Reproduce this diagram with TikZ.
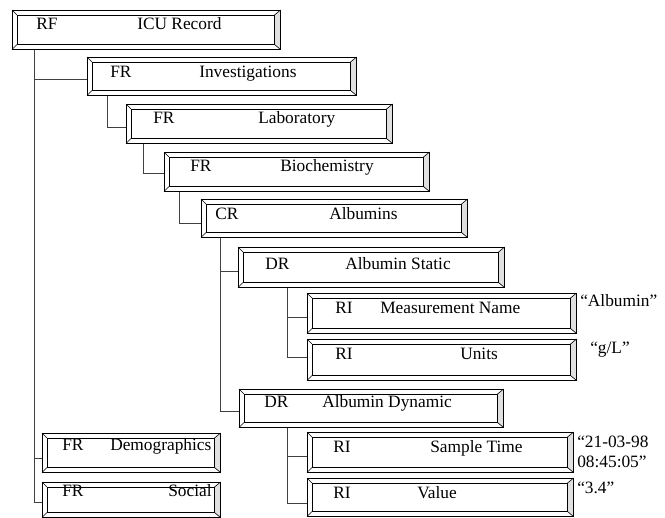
\documentclass[tikz,border=0pt]{standalone}
\usepackage{fontspec}
\setmainfont{Liberation Serif}

\begin{document}
\begin{tikzpicture}[x=0.75pt,y=-0.75pt,
  rec/.style={inner sep=0pt, anchor=north west},
  lbl/.style={inner sep=0pt, anchor=base west, font=\fontsize{13}{15}\selectfont},
  bevel/.style={line width=0.45pt},
  heavy/.style={line width=1.1pt},
  link/.style={black!75, line width=0.6pt}]

\useasboundingbox (0,0) rectangle (665,518);

% record boxes: name/left/top/width/height/kind/kind x/title/title x/baseline
\foreach \nm/\xa/\ya/\bw/\bh/\kind/\kx/\ttl/\tx/\by in {icu/12/10/268/39/RF/36/ICU Record/137/19,
  inv/87/57/269/38/FR/110/Investigations/199/20,
  lab/126/104/266/39/FR/153/Laboratory/258/19,
  bio/164/152/265/39/FR/190/Biochemistry/280/19,
  alb/201/199/266/38/CR/215/Albumins/329/20,
  ast/238/247/266/40/DR/265/Albumin Static/345/22,
  mn/307/293/269/40/RI/335/Measurement Name/380/20,
  un/307/339/269/41/RI/335/Units/460/20,
  adyn/239/389/264/38/DR/264/Albumin Dynamic/322/18,
  st/307/432/266/40/RI/333/Sample Time/430/20,
  val/307/478/266/38/RI/333/Value/417/20,
  dem/42/433/178/39/FR/62/Demographics/110/17,
  soc/42/482/178/35/FR/62/Social/168/14}
{
  \node[rec, minimum width=\bw*0.75pt, minimum height=\bh*0.75pt] (\nm) at (\xa,\ya) {};
  \path (\nm.north west) ++(5,5) coordinate (\nm-a);
  \path (\nm.south east) ++(-6,-5) coordinate (\nm-b);
  \fill[black!12] (\nm.north east) -- (\nm-b |- \nm-a) -- (\nm-b) -- (\nm.south east) -- cycle;
  \draw[bevel] (\nm.north west) rectangle (\nm.south east);
  \draw[bevel] (\nm-a) rectangle (\nm-b);
  \draw[heavy] (\nm-a |- \nm-b) -- (\nm-b) -- (\nm-b |- \nm-a);
  \draw[heavy] (\nm.south west) -- (\nm.south east);
  \draw[bevel] (\nm.north west) -- (\nm-a) (\nm.south west) -- (\nm-a |- \nm-b)
    (\nm.north east) -- (\nm-b |- \nm-a) (\nm.south east) -- (\nm-b);
  \node[lbl] (\nm-k) at (\kx,\ya+\by) {\kind};
  \node[lbl] (\nm-t) at (\tx,\ya+\by) {\ttl};
}

% tree connectors: parent/trunk offset/child/branch offset
\foreach \src/\dx/\dst/\dy in {icu/22/inv/3, icu/22/dem/6, icu/22/soc/3,
  inv/20/lab/4, lab/17/bio/2, bio/15/alb/5,
  alb/19/ast/4, alb/19/adyn/3,
  ast/49/mn/4, ast/49/un/-2,
  adyn/48/st/4, adyn/48/val/6}
  \draw[link] ([shift={(\dx,0)}]\src.south west) |- ([shift={(0,\dy)}]\dst.west);

% values
\node[lbl] (mn-v) at (580,306) {“Albumin”};
\node[lbl] (un-v) at (590,353) {“g/L”};
\node[lbl] (st-v1) at (577,447) {“21-03-98};
\node[lbl] (st-v2) at (577,467) {08:45:05”};
\node[lbl] (val-v) at (577,493) {“3.4”};

\end{tikzpicture}
\end{document}
